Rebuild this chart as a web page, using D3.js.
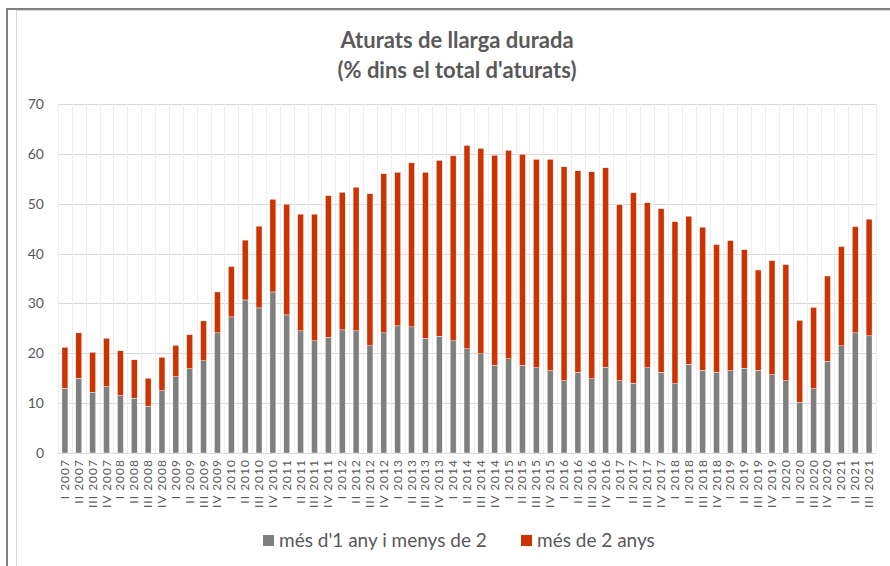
<!DOCTYPE html>
<html lang="ca">
<head>
<meta charset="UTF-8">
<title>Aturats de llarga durada</title>
<script src="https://d3js.org/d3.v7.min.js"></script>
<style>
  body { margin: 0; background: #fff; }
  svg text { font-family: Lato, "Open Sans", sans-serif; fill: #595959; }
</style>
</head>
<body>
<svg width="890" height="566"></svg>
<script>
// quarters I 2007 .. III 2021
const quarters = [];
for (let y = 2007; y <= 2021; y++) {
  ["I", "II", "III", "IV"].forEach(q => {
    if (y === 2021 && q === "IV") return;
    quarters.push(q + " " + y);
  });
}

// més d'1 any i menys de 2
const oneToTwo = [13.0,15.0,12.2,13.3,11.5,11.0,9.4,12.5,15.3,16.9,18.5,24.1,27.3,30.7,29.1,32.3,
  27.7,24.5,22.5,23.2,24.7,24.5,21.5,24.1,25.5,25.3,23.0,23.4,22.5,20.9,19.9,17.6,18.9,17.6,17.1,16.5,
  14.5,16.2,14.9,17.2,14.5,14.0,17.1,16.2,13.9,17.8,16.6,16.2,16.5,17.0,16.6,15.7,14.5,10.2,12.9,18.4,
  21.5,24.1,23.5];

// més de 2 anys
const overTwo = [8.2,9.1,8.0,9.7,9.0,7.7,5.6,6.7,6.3,6.8,8.0,8.2,10.1,12.0,16.4,18.6,
  22.2,23.4,25.4,28.4,27.6,28.8,30.5,31.9,30.8,32.9,33.3,35.3,37.1,40.8,41.2,42.1,41.8,42.3,41.8,42.4,
  42.9,40.4,41.5,40.0,35.3,38.2,33.1,32.8,32.5,29.7,28.7,25.6,26.1,23.8,20.1,22.9,23.3,16.4,16.3,17.1,
  19.9,21.3,23.4];

const yTicks = [0, 10, 20, 30, 40, 50, 60, 70];
const seriesNames = ["més d'1 any i menys de 2", "més de 2 anys"];
const colors = ["#7f7f7f", "#cc3300"];

const svg = d3.select("svg");

// chart frame
svg.append("line").attr("x1", 7).attr("x2", 7).attr("y1", 8).attr("y2", 566)
  .attr("stroke", "#808080").attr("stroke-width", 2);
svg.append("line").attr("x1", 6).attr("x2", 890).attr("y1", 9).attr("y2", 9)
  .attr("stroke", "#808080").attr("stroke-width", 2);
svg.append("line").attr("x1", 16.5).attr("x2", 16.5).attr("y1", 10.5).attr("y2", 566)
  .attr("stroke", "#d9d9d9").attr("stroke-width", 1);
svg.append("line").attr("x1", 16).attr("x2", 890).attr("y1", 10.5).attr("y2", 10.5)
  .attr("stroke", "#d9d9d9").attr("stroke-width", 1);

const margin = { left: 58, right: 876, top: 104, bottom: 453 };

const x = d3.scaleBand().domain(quarters).range([margin.left, margin.right]).paddingInner(0.57).paddingOuter(0.285);
const y = d3.scaleLinear().domain([0, 70]).range([margin.bottom, margin.top]);

// horizontal gridlines
svg.append("g").selectAll("line").data(yTicks).enter().append("line")
  .attr("x1", margin.left).attr("x2", margin.right)
  .attr("y1", d => Math.round(y(d)) + 0.5).attr("y2", d => Math.round(y(d)) + 0.5)
  .attr("stroke", "#d9d9d9").attr("stroke-width", 1);

// vertical gridlines between categories
const step = x.step();
const bounds = d3.range(quarters.length + 1).map(i => margin.left + i * step);
svg.append("g").selectAll("line").data(bounds).enter().append("line")
  .attr("x1", d => Math.round(d) + 0.5).attr("x2", d => Math.round(d) + 0.5)
  .attr("y1", margin.top).attr("y2", margin.bottom)
  .attr("stroke", "#eeeeee").attr("stroke-width", 1);

// stacked bars
const table = quarters.map((q, i) => ({ q, a: oneToTwo[i], b: overTwo[i] }));
const stack = d3.stack().keys(["a", "b"])(table);

svg.append("g").selectAll("g").data(stack).enter().append("g")
  .attr("fill", (d, i) => colors[i])
  .selectAll("rect").data(d => d).enter().append("rect")
  .attr("x", d => x(d.data.q))
  .attr("width", x.bandwidth())
  .attr("y", d => y(d[1]))
  .attr("height", d => y(d[0]) - y(d[1]))
  .attr("stroke", "#fff").attr("stroke-width", 0.4);

// y axis labels
svg.append("g").selectAll("text").data(yTicks).enter().append("text")
  .attr("x", 44).attr("y", d => y(d) + 5)
  .attr("text-anchor", "end").style("font-size", "14px")
  .text(d => d);

// x axis labels
svg.append("g").selectAll("text").data(quarters).enter().append("text")
  .attr("transform", d => `translate(${x(d) + x.bandwidth() / 2 + 4},459) rotate(-90)`)
  .attr("text-anchor", "end").style("font-size", "12px").style("letter-spacing", "1px")
  .text(d => d);

// title
svg.append("text").attr("x", 457).attr("y", 48).attr("text-anchor", "middle")
  .style("font-size", "22px").style("font-weight", "bold").text("Aturats de llarga durada");
svg.append("text").attr("x", 457).attr("y", 78).attr("text-anchor", "middle")
  .style("font-size", "22px").style("font-weight", "bold").text("(% dins el total d'aturats)");

// legend
const legendX = [263, 521];
const lg = svg.append("g").selectAll("g").data(seriesNames).enter().append("g")
  .attr("transform", (d, i) => `translate(${legendX[i]},535)`);
lg.append("rect").attr("width", 11).attr("height", 11).attr("fill", (d, i) => colors[i]);
lg.append("text").attr("x", 16).attr("y", 12).style("font-size", "19px").text(d => d);
</script>
</body>
</html>
